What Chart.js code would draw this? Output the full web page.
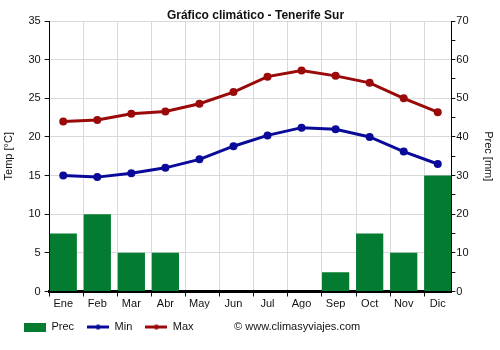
<!DOCTYPE html>
<html>
<head>
<meta charset="utf-8">
<script src="https://cdn.jsdelivr.net/npm/chart.js@4/dist/chart.umd.min.js"></script>
<style>
  html, body { margin: 0; padding: 0; background: #ffffff; }
  #wrap { width: 500px; height: 350px; }
</style>
</head>
<body>
<div id="wrap"><canvas id="chart" width="500" height="350"></canvas></div>
<script>
// Monthly climate figures
const months = ['Ene', 'Feb', 'Mar', 'Abr', 'May', 'Jun', 'Jul', 'Ago', 'Sep', 'Oct', 'Nov', 'Dic'];
const precMm = [15, 20, 10, 10, 0, 0, 0, 0, 5, 15, 10, 30];
const tempMin = [15.0, 14.8, 15.3, 16.0, 17.1, 18.8, 20.2, 21.2, 21.0, 20.0, 18.1, 16.5];
const tempMax = [22.0, 22.2, 23.0, 23.3, 24.3, 25.8, 27.8, 28.6, 27.9, 27.0, 25.0, 23.2];
const tempAxis = { min: 0, max: 35, step: 5 };
const precAxis = { min: 0, max: 70, step: 5, labelEvery: 10 };
const creditText = '\u00A9 www.climasyviajes.com';

const FONT = 'Liberation Sans, Arial, Helvetica, sans-serif';
const GREEN = '#037b30';
const BLUE = '#0a0a9a';
const RED = '#9a0a0a';
const GRID = '#d9d9d9';
const INK = '#111111';

const toPoints = arr => arr.map((v, i) => ({ x: i, y: v }));

// Small swatches used as legend markers
function swatch(kind, color) {
  const c = document.createElement('canvas');
  c.width = 22; c.height = 9;
  const g = c.getContext('2d');
  if (kind === 'box') {
    g.fillStyle = color;
    g.fillRect(0, 0, 22, 9);
  } else if (kind === 'line') {
    g.strokeStyle = color;
    g.lineWidth = 3;
    g.beginPath(); g.moveTo(0, 4.5); g.lineTo(22, 4.5); g.stroke();
    g.fillStyle = color;
    g.beginPath(); g.arc(11, 4.5, 2.5, 0, Math.PI * 2); g.fill();
  }
  return c;
}

const markers = [swatch('box', GREEN), swatch('line', BLUE), swatch('line', RED)];
const blankMarker = swatch('none', 'transparent');

const half = 0.4; // half bar width in category units

new Chart(document.getElementById('chart'), {
  data: {
    datasets: [
      {
        type: 'bar', label: 'Prec', data: toPoints(precMm),
        xAxisID: 'x', yAxisID: 'y2',
        backgroundColor: GREEN, borderWidth: 0,
        barPercentage: 1, categoryPercentage: 0.8, order: 2
      },
      {
        type: 'line', label: 'Min', data: toPoints(tempMin),
        xAxisID: 'x', yAxisID: 'y',
        borderColor: BLUE, backgroundColor: BLUE, borderWidth: 3,
        pointRadius: 4, pointBorderWidth: 0, pointBackgroundColor: BLUE,
        tension: 0, order: 1
      },
      {
        type: 'line', label: 'Max', data: toPoints(tempMax),
        xAxisID: 'x', yAxisID: 'y',
        borderColor: RED, backgroundColor: RED, borderWidth: 3,
        pointRadius: 4, pointBorderWidth: 0, pointBackgroundColor: RED,
        tension: 0, order: 0
      }
    ]
  },
  options: {
    responsive: false,
    animation: false,
    events: [],
    font: { family: FONT, size: 11 },
    layout: { padding: { left: 11, right: 0, top: 0, bottom: 7.5 } },
    scales: {
      x: {
        type: 'linear', position: 'bottom',
        offset: false,
        min: -half, max: months.length - 1 + half,
        afterBuildTicks: scale => {
          scale.ticks = months.map((m, i) => ({ value: i - half }));
        },
        // month labels sit a little tighter under the axis
        afterFit: scale => { scale.height -= 3; },
        grid: { offset: false, color: GRID, lineWidth: 1, tickColor: INK, tickLength: 5 },
        border: { color: '#000000', width: 3 },
        ticks: {
          autoSkip: false, maxRotation: 0, padding: 2,
          labelOffset: 13.6,
          color: INK, font: { family: FONT, size: 11, lineHeight: 1 },
          callback: (v, i) => months[i]
        }
      },
      y: {
        type: 'linear', position: 'left',
        min: tempAxis.min, max: tempAxis.max,
        grid: { color: GRID, lineWidth: 1, tickColor: INK, tickLength: 5 },
        border: { color: '#000000', width: 1 },
        ticks: { stepSize: tempAxis.step, autoSkip: false, padding: 4, color: INK, font: { family: FONT, size: 11 } },
        title: {
          display: true, text: 'Temp [\u00B0C]', color: INK,
          font: { family: FONT, size: 11 },
          padding: { top: -8.6, bottom: 8.8 }
        }
      },
      y2: {
        type: 'linear', position: 'right',
        min: precAxis.min, max: precAxis.max,
        grid: { drawOnChartArea: false, tickColor: INK, tickLength: 4 },
        border: { color: '#000000', width: 1 },
        ticks: {
          stepSize: precAxis.step, autoSkip: false, padding: 1, color: INK,
          font: { family: FONT, size: 11 },
          callback: v => (v % precAxis.labelEvery === 0 ? String(v) : '')
        },
        title: {
          display: true, text: 'Prec [mm]', color: INK,
          font: { family: FONT, size: 11 },
          padding: { top: 5.4, bottom: 11.8 }
        }
      }
    },
    plugins: {
      title: {
        display: true, text: 'Gráfico climático - Tenerife Sur', color: INK,
        font: { family: FONT, size: 12, weight: 'bold', lineHeight: 1 },
        padding: { top: 10, bottom: -1 }
      },
      tooltip: { enabled: false },
      legend: {
        position: 'bottom', align: 'start',
        labels: {
          usePointStyle: true, pointStyleWidth: 22, boxHeight: 9,
          padding: 13, color: INK, font: { family: FONT, size: 11 },
          generateLabels: chart => {
            const items = chart.data.datasets.map((ds, i) => ({
              text: ds.label, pointStyle: markers[i],
              fillStyle: 'transparent', strokeStyle: 'transparent', lineWidth: 0,
              hidden: false, datasetIndex: i, fontColor: INK
            }));
            items.push({
              text: creditText, pointStyle: blankMarker,
              fillStyle: 'transparent', strokeStyle: 'transparent', lineWidth: 0,
              hidden: false, fontColor: INK
            });
            return items;
          }
        }
      }
    }
  }
});
</script>
</body>
</html>
